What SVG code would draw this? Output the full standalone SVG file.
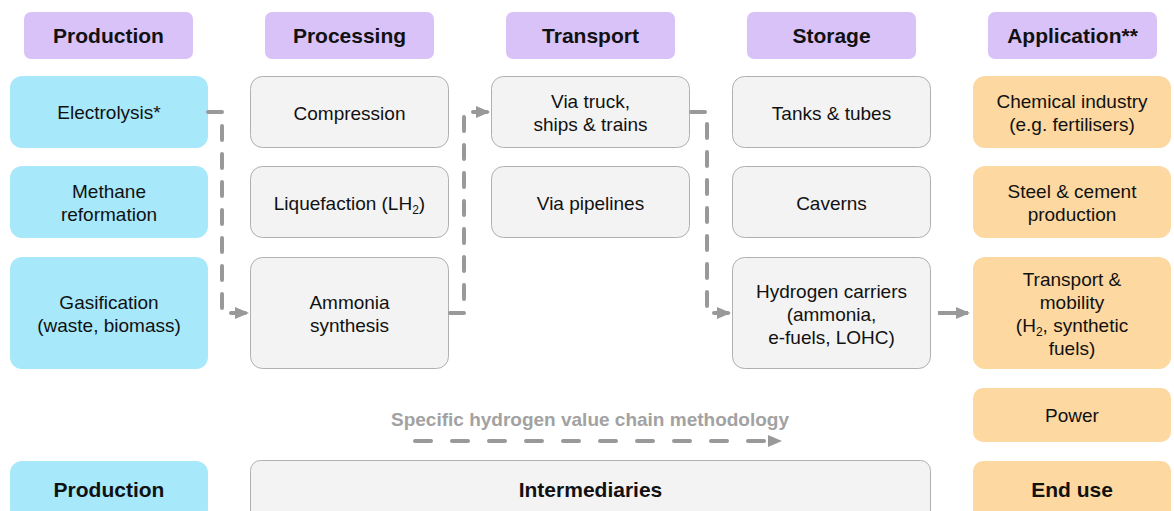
<svg xmlns="http://www.w3.org/2000/svg" width="1174" height="511" viewBox="0 0 1174 511">
<style>
text{font-family:"Liberation Sans",Arial,sans-serif;fill:#111;text-anchor:middle}
.t{font-size:19px}
.h{font-size:21px;font-weight:bold}
.hd{fill:#d9c2f7}
.bl{fill:#a7e8fb}
.gr{fill:#f3f3f3;stroke:#b0b0b0;stroke-width:1}
.or{fill:#fdd8a0}
.c{fill:none;stroke:#999;stroke-width:4;stroke-dasharray:14 14;stroke-linecap:round}
.lg{font-size:19px;font-weight:bold;fill:#a2a2a2}
</style>
<defs>
<marker id="ah" markerWidth="14" markerHeight="14" refX="12" refY="7" orient="auto" markerUnits="userSpaceOnUse" viewBox="0 0 14 14">
<path d="M0,1 L14,7 L0,13 z" fill="#999"/>
</marker>
</defs>
<g id="headers">
<g id="h-production"><rect class="hd" x="24" y="12" width="169" height="47" rx="7"/><text class="h" x="108.5" y="43">Production</text></g>
<g id="h-processing"><rect class="hd" x="265" y="12" width="169" height="47" rx="7"/><text class="h" x="349.5" y="43">Processing</text></g>
<g id="h-transport"><rect class="hd" x="506" y="12" width="169" height="47" rx="7"/><text class="h" x="590.5" y="43">Transport</text></g>
<g id="h-storage"><rect class="hd" x="747" y="12" width="169" height="47" rx="7"/><text class="h" x="831.5" y="43">Storage</text></g>
<g id="h-application"><rect class="hd" x="988" y="12" width="169" height="47" rx="7"/><text class="h" x="1072.5" y="43">Application**</text></g>
</g>
<g id="electrolysis"><rect class="bl" x="10" y="76" width="198" height="72" rx="12"/><text class="t" x="109" y="119">Electrolysis*</text></g>
<g id="methane"><rect class="bl" x="10" y="166" width="198" height="72" rx="12"/><text class="t" x="109" y="198">Methane</text><text class="t" x="109" y="221">reformation</text></g>
<g id="gasification"><rect class="bl" x="10" y="257" width="198" height="112" rx="12"/><text class="t" x="109" y="309">Gasification</text><text class="t" x="109" y="332">(waste, biomass)</text></g>
<g id="production-bottom"><rect class="bl" x="10" y="461" width="198" height="60" rx="12"/><text class="h" x="109" y="497">Production</text></g>

<g id="compression"><rect class="gr" x="250.5" y="76.5" width="198" height="71" rx="12"/><text class="t" x="349.5" y="120">Compression</text></g>
<g id="liquefaction"><rect class="gr" x="250.5" y="166.5" width="198" height="71" rx="12"/><text class="t" x="349.5" y="210">Liquefaction (LH<tspan font-size="12" dy="4">2</tspan><tspan dy="-4">)</tspan></text></g>
<g id="ammonia"><rect class="gr" x="250.5" y="257.5" width="198" height="111" rx="12"/><text class="t" x="349.5" y="309">Ammonia</text><text class="t" x="349.5" y="332">synthesis</text></g>

<g id="truck"><rect class="gr" x="491.5" y="76.5" width="198" height="71" rx="12"/><text class="t" x="590.5" y="108">Via truck,</text><text class="t" x="590.5" y="131">ships &amp; trains</text></g>
<g id="pipelines"><rect class="gr" x="491.5" y="166.5" width="198" height="71" rx="12"/><text class="t" x="590.5" y="210">Via pipelines</text></g>

<g id="tanks"><rect class="gr" x="732.5" y="76.5" width="198" height="71" rx="12"/><text class="t" x="831.5" y="120">Tanks &amp; tubes</text></g>
<g id="caverns"><rect class="gr" x="732.5" y="166.5" width="198" height="71" rx="12"/><text class="t" x="831.5" y="210">Caverns</text></g>
<g id="carriers"><rect class="gr" x="732.5" y="257.5" width="198" height="111" rx="12"/><text class="t" x="831.5" y="298">Hydrogen carriers</text><text class="t" x="831.5" y="321">(ammonia,</text><text class="t" x="831.5" y="344">e-fuels, LOHC)</text></g>

<g id="intermediaries"><rect class="gr" x="250.5" y="460.5" width="680" height="70" rx="10"/><text class="h" x="590.5" y="497">Intermediaries</text></g>

<g id="chemical"><rect class="or" x="973" y="76" width="198" height="72" rx="12"/><text class="t" x="1072" y="108">Chemical industry</text><text class="t" x="1072" y="131">(e.g. fertilisers)</text></g>
<g id="steel"><rect class="or" x="973" y="166" width="198" height="72" rx="12"/><text class="t" x="1072" y="198">Steel &amp; cement</text><text class="t" x="1072" y="221">production</text></g>
<g id="mobility"><rect class="or" x="973" y="257" width="198" height="112" rx="12"/><text class="t" x="1072" y="286">Transport &amp;</text><text class="t" x="1072" y="309">mobility</text><text class="t" x="1072" y="332">(H<tspan font-size="12" dy="4">2</tspan><tspan dy="-4">, synthetic</tspan></text><text class="t" x="1072" y="355">fuels)</text></g>
<g id="power"><rect class="or" x="973" y="388" width="198" height="54" rx="10"/><text class="t" x="1072" y="422">Power</text></g>
<g id="enduse"><rect class="or" x="973" y="461" width="198" height="60" rx="10"/><text class="h" x="1072" y="497">End use</text></g>

<g id="connectors">
<path class="c" d="M208,112 H222 V313 H247" marker-end="url(#ah)"/>
<path class="c" d="M450,313 H464 V112 H488" marker-end="url(#ah)"/>
<path class="c" d="M691,112 H707 V313 H729" marker-end="url(#ah)"/>
<path d="M938,313 H968" stroke="#999" stroke-width="4" fill="none" marker-end="url(#ah)"/>
<path class="c" d="M415,441 H780" marker-end="url(#ah)" style="stroke-dasharray:16 21"/>
</g>
<text class="lg" x="590" y="426">Specific hydrogen value chain methodology</text>
</svg>
